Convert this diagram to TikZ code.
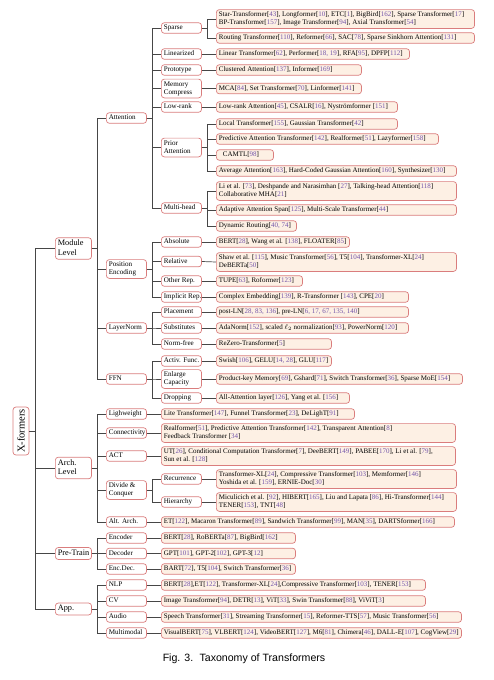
\documentclass[tikz,border=0pt]{standalone}
\usepackage{fontspec}
\setmainfont{Liberation Serif}
\setsansfont{Liberation Sans}
\definecolor{bord}{RGB}{218,125,125}
\definecolor{leaffill}{RGB}{253,240,228}
\definecolor{citc}{RGB}{115,85,170}
\definecolor{conn}{RGB}{70,70,70}
\newcommand\rf[1]{[\textcolor{citc}{#1}]}
\newcommand\lbox[2]{\makebox[#1][l]{\begin{tabular}{@{}l@{}}#2\end{tabular}}}
\newcommand\cb[1]{\lbox{35.2pt}{#1}}
\newcommand\tb[1]{\lbox{31.2pt}{#1}}
\begin{document}
\begin{tikzpicture}[x=1pt,y=-1pt,
  box/.style={draw=bord, rounded corners=3pt, line width=0.7pt, anchor=west, inner xsep=2.5pt, inner ysep=1.2pt},
  leaf/.style={box, fill=leaffill, font=\fontsize{7}{8.2}\selectfont},
  cat/.style={box, fill=white, font=\fontsize{7.1}{8.2}\selectfont},
  topc/.style={box, fill=white, font=\fontsize{8.3}{9.6}\selectfont},
  link/.style={draw=conn, line width=0.7pt},
]
\useasboundingbox (0,0) rectangle (494,680);
\coordinate (b0) at (35,0);
\coordinate (b1) at (97,0);
\coordinate (b2) at (152,0);
\coordinate (b3) at (207,0);

% root
\node[draw=bord, rounded corners=3pt, line width=0.7pt, fill=white, rotate=90, minimum width=48pt, minimum height=16pt, inner sep=1pt, font=\fontsize{10.5}{12}\selectfont] (root) at (21,431) {X-formers};

% level 1
\node[topc] (ml) at (55,248.5) {\tb{Module\\Level}};
\node[topc] (al) at (55,468) {\tb{Arch.\\Level}};
\node[topc] (pt) at (55,553.5) {\tb{Pre-Train}};
\node[topc] (ap) at (55,609) {\tb{App.}};

% level 2
\node[cat] (att) at (106,118) {\cb{Attention}};
\node[cat] (pe) at (106,269) {\cb{Position\\Encoding}};
\node[cat] (ln) at (106,328) {\cb{LayerNorm}};
\node[cat] (ffn) at (106,379) {\cb{FFN}};
\node[cat] (lw) at (106,414) {\cb{Lighweight}};
\node[cat] (con) at (106,433) {\cb{Connectivity}};
\node[cat] (act) at (106,456) {\cb{ACT}};
\node[cat] (dc) at (106,490) {\cb{Divide \&\\Conquer}};
\node[cat] (aa) at (106,522) {\cb{Alt. Arch.}};
\node[cat] (enc) at (106,538) {\cb{Encoder}};
\node[cat] (dec) at (106,553.5) {\cb{Decoder}};
\node[cat] (ed) at (106,569) {\cb{Enc.Dec.}};
\node[cat] (nlp) at (106,585) {\cb{NLP}};
\node[cat] (cv) at (106,601) {\cb{CV}};
\node[cat] (au) at (106,617) {\cb{Audio}};
\node[cat] (mm) at (106,633) {\cb{Multimodal}};

% level 3
\node[cat] (sp) at (161,28) {\cb{Sparse}};
\node[cat] (lin) at (161,54) {\cb{Linearized}};
\node[cat] (pro) at (161,70) {\cb{Prototype}};
\node[cat] (mc) at (161,88.5) {\cb{Memory\\Compress}};
\node[cat] (lr) at (161,107) {\cb{Low-rank}};
\node[cat] (pa) at (161,147.5) {\cb{Prior\\Attention}};
\node[cat] (mh) at (161,208) {\cb{Multi-head}};
\node[cat] (abs) at (161,242) {\cb{Absolute}};
\node[cat] (rel) at (161,261.5) {\cb{Relative}};
\node[cat] (oth) at (161,281) {\cb{Other Rep.}};
\node[cat] (imp) at (161,297) {\cb{Implicit Rep.}};
\node[cat] (plc) at (161,312) {\cb{Placement}};
\node[cat] (sub) at (161,328) {\cb{Substitutes}};
\node[cat] (nf) at (161,344) {\cb{Norm-free}};
\node[cat] (af) at (161,361) {\cb{Activ. Func.}};
\node[cat] (ec) at (161,379) {\cb{Enlarge\\Capacity}};
\node[cat] (dr) at (161,398) {\cb{Dropping}};
\node[cat] (rec) at (161,479) {\cb{Recurrence}};
\node[cat] (hie) at (161,502) {\cb{Hierarchy}};

% leaves at 216
\node[leaf] (spA) at (216,19) {\lbox{253.2pt}{Star-Transformer\rf{43}, Longformer\rf{10}, ETC\rf{1}, BigBird\rf{162}, Sparse Transformer\rf{17}\\BP-Transformer\rf{157}, Image Transformer\rf{94}, Axial Transformer\rf{54}}};
\node[leaf] (spB) at (216,38) {\lbox{253.2pt}{Routing Transformer\rf{110}, Reformer\rf{66}, SAC\rf{78}, Sparse Sinkhorn Attention\rf{131}}};
\node[leaf] (linL) at (216,54) {\lbox{188.2pt}{Linear Transformer\rf{62}, Performer\rf{18, 19}, RFA\rf{95}, DPFP\rf{112}}};
\node[leaf] (proL) at (216,70) {\lbox{140.2pt}{Clustered Attention\rf{137}, Informer\rf{169}}};
\node[leaf] (mcL) at (216,88.5) {\lbox{140.2pt}{MCA\rf{84}, Set Transformer\rf{70}, Linformer\rf{141}}};
\node[leaf] (lrL) at (216,107) {\lbox{176.2pt}{Low-rank Attention\rf{45}, CSALR\rf{16}, Nyströmformer \rf{151}}};
\node[leaf] (paA) at (216,124) {\lbox{176.2pt}{Local Transformer\rf{155}, Gaussian Transformer\rf{42}}};
\node[leaf] (paB) at (216,139) {\lbox{217.2pt}{Predictive Attention Transformer\rf{142}, Realformer\rf{51}, Lazyformer\rf{158}}};
\node[leaf] (paC) at (216,155) {\lbox{52.2pt}{\hspace*{4pt}CAMTL\rf{98}}};
\node[leaf] (paD) at (216,171) {\lbox{235.2pt}{Average Attention\rf{163}, Hard-Coded Gaussian Attention\rf{160}, Synthesizer\rf{130}}};
\node[leaf] (mhA) at (216,191) {\lbox{235.2pt}{Li et al. \rf{73}, Deshpande and Narasimhan \rf{27}, Talking-head Attention\rf{118}\\Collaborative MHA\rf{21}}};
\node[leaf] (mhB) at (216,210) {\lbox{235.2pt}{Adaptive Attention Span\rf{125}, Multi-Scale Transformer\rf{44}}};
\node[leaf] (mhC) at (216,226) {\lbox{75.2pt}{Dynamic Routing\rf{40, 74}}};
\node[leaf] (absL) at (216,242) {\lbox{128.2pt}{BERT\rf{28}, Wang et al. \rf{138}, FLOATER\rf{85}}};
\node[leaf] (relL) at (216,262) {\lbox{235.2pt}{Shaw et al. \rf{115}, Music Transformer\rf{56}, T5\rf{104}, Transformer-XL\rf{24}\\DeBERTa\rf{50}}};
\node[leaf] (othL) at (216,281) {\lbox{81.2pt}{TUPE\rf{63}, Roformer\rf{123}}};
\node[leaf] (impL) at (216,297) {\lbox{187.2pt}{Complex Embedding\rf{139}, R-Transformer \rf{143}, CPE\rf{20}}};
\node[leaf] (plcL) at (216,312) {\lbox{187.2pt}{post-LN\rf{28, 83, 136}, pre-LN\rf{6, 17, 67, 135, 140}}};
\node[leaf] (subL) at (216,328) {\lbox{187.2pt}{AdaNorm\rf{152}, scaled $\ell_2$ normalization\rf{93}, PowerNorm\rf{120}}};
\node[leaf] (nfL) at (216,344) {\lbox{110.2pt}{ReZero-Transformer\rf{5}}};
\node[leaf] (afL) at (216,361) {\lbox{110.2pt}{Swish\rf{106}, GELU\rf{14, 28}, GLU\rf{117}}};
\node[leaf] (ecL) at (216,379) {\lbox{241.2pt}{Product-key Memory\rf{69}, Gshard\rf{71}, Switch Transformer\rf{36}, Sparse MoE\rf{154}}};
\node[leaf] (drL) at (216,398) {\lbox{128.2pt}{All-Attention layer\rf{126}, Yang et al. \rf{156}}};
\node[leaf] (recL) at (216,479) {\lbox{235.2pt}{Transformer-XL\rf{24}, Compressive Transformer\rf{103}, Memformer\rf{146}\\Yoshida et al. \rf{159}, ERNIE-Doc\rf{30}}};
\node[leaf] (hieL) at (216,502) {\lbox{235.2pt}{Miculicich et al. \rf{92}, HIBERT\rf{165}, Liu and Lapata \rf{86}, Hi-Transformer\rf{144}\\TENER\rf{153}, TNT\rf{48}}};

% leaves at 161
\node[leaf] (lwL) at (161,414) {\lbox{188.2pt}{Lite Transformer\rf{147}, Funnel Transformer\rf{23}, DeLighT\rf{91}}};
\node[leaf] (conL) at (161,433) {\lbox{289.2pt}{Realformer\rf{51}, Predictive Attention Transformer\rf{142}, Transparent Attention\rf{8}\\Feedback Transformer \rf{34}}};
\node[leaf] (actL) at (161,456) {\lbox{289.2pt}{UT\rf{26}, Conditional Computation Transformer\rf{7}, DeeBERT\rf{149}, PABEE\rf{170}, Li et al. \rf{79},\\Sun et al. \rf{128}}};
\node[leaf] (aaL) at (161,522) {\lbox{288.2pt}{ET\rf{122}, Macaron Transformer\rf{89}, Sandwich Transformer\rf{99}, MAN\rf{35}, DARTSformer\rf{166}}};
\node[leaf] (encL) at (161,538) {\lbox{129.2pt}{BERT\rf{28}, RoBERTa\rf{87}, BigBird\rf{162}}};
\node[leaf] (decL) at (161,553.5) {\lbox{129.2pt}{GPT\rf{101}, GPT-2\rf{102}, GPT-3\rf{12}}};
\node[leaf] (edL) at (161,569) {\lbox{129.2pt}{BART\rf{72}, T5\rf{104}, Switch Transformer\rf{36}}};
\node[leaf] (nlpL) at (161,585) {\lbox{259.2pt}{BERT\rf{28},ET\rf{122}, Transformer-XL\rf{24},Compressive Transformer\rf{103}, TENER\rf{153}}};
\node[leaf] (cvL) at (161,601) {\lbox{259.2pt}{Image Transformer\rf{94}, DETR\rf{13}, ViT\rf{33}, Swin Transformer\rf{88}, ViViT\rf{3}}};
\node[leaf] (auL) at (161,617) {\lbox{295.2pt}{Speech Transformer\rf{31}, Streaming Transformer\rf{15}, Reformer-TTS\rf{57}, Music Transformer\rf{56}}};
\node[leaf] (mmL) at (161,633) {\lbox{295.2pt}{VisualBERT\rf{75}, VLBERT\rf{124}, VideoBERT\rf{127}, M6\rf{81}, Chimera\rf{46}, DALL-E\rf{107}, CogView\rf{29}}};

% caption
\node[font=\sffamily\fontsize{10.6}{12}\selectfont] (cap) at (244,659) {Fig. 3.\hspace{0.6em}Taxonomy of Transformers};

% connectors: root -> level 1
\foreach \c in {ml,al,pt,ap}
  \draw[link] (root.south) -- (root.south -| b0) |- (\c.west);
% level 1 -> level 2
\foreach \c in {att,pe,ln,ffn}
  \draw[link] (ml.east) -- (ml.east -| b1) |- (\c.west);
\foreach \c in {lw,con,act,dc,aa}
  \draw[link] (al.east) -- (al.east -| b1) |- (\c.west);
\foreach \c in {enc,dec,ed}
  \draw[link] (pt.east) -- (pt.east -| b1) |- (\c.west);
\foreach \c in {nlp,cv,au,mm}
  \draw[link] (ap.east) -- (ap.east -| b1) |- (\c.west);
% level 2 -> level 3
\foreach \c in {sp,lin,pro,mc,lr,pa,mh}
  \draw[link] (att.east) -- (att.east -| b2) |- (\c.west);
\foreach \c in {abs,rel,oth,imp}
  \draw[link] (pe.east) -- (pe.east -| b2) |- (\c.west);
\foreach \c in {plc,sub,nf}
  \draw[link] (ln.east) -- (ln.east -| b2) |- (\c.west);
\foreach \c in {af,ec,dr}
  \draw[link] (ffn.east) -- (ffn.east -| b2) |- (\c.west);
\foreach \c in {rec,hie}
  \draw[link] (dc.east) -- (dc.east -| b2) |- (\c.west);
% level 3 -> leaves
\foreach \c in {spA,spB}
  \draw[link] (sp.east) -- (sp.east -| b3) |- (\c.west);
\foreach \c in {paA,paB,paC,paD}
  \draw[link] (pa.east) -- (pa.east -| b3) |- (\c.west);
\foreach \c in {mhA,mhB,mhC}
  \draw[link] (mh.east) -- (mh.east -| b3) |- (\c.west);
\foreach \p/\c in {lin/linL,pro/proL,mc/mcL,lr/lrL,abs/absL,rel/relL,oth/othL,imp/impL,plc/plcL,sub/subL,nf/nfL,af/afL,ec/ecL,dr/drL,rec/recL,hie/hieL,lw/lwL,con/conL,act/actL,aa/aaL,enc/encL,dec/decL,ed/edL,nlp/nlpL,cv/cvL,au/auL,mm/mmL}
  \draw[link] (\p.east) -- (\c.west);
\end{tikzpicture}
\end{document}
